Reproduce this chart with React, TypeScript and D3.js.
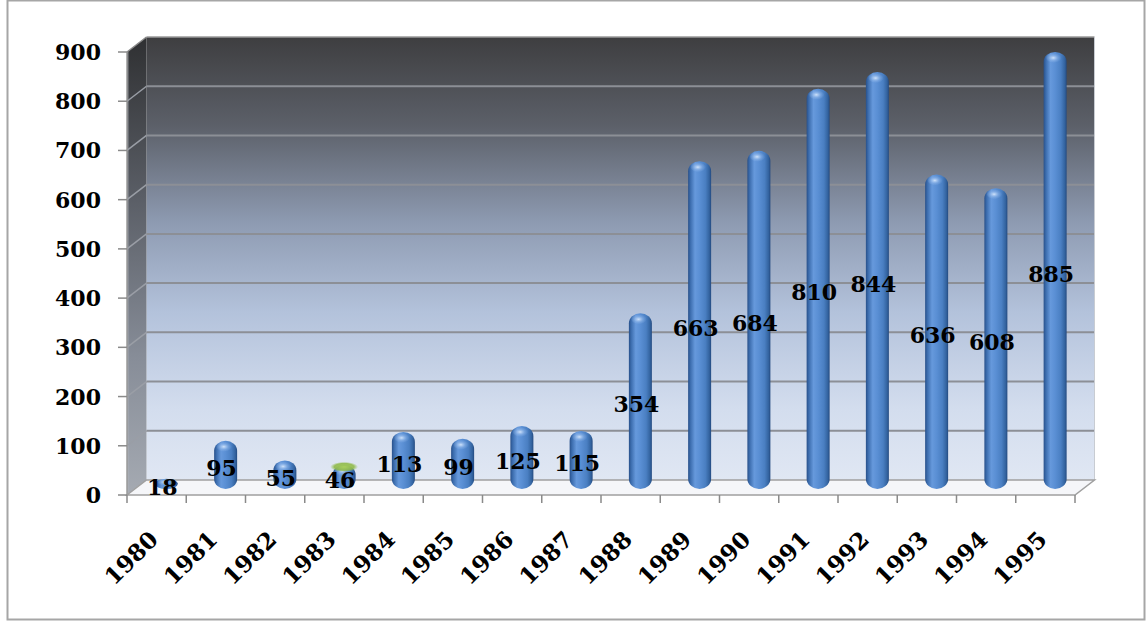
import React from "react";
import * as d3 from "d3";

// Yearly counts, 1980–1995
const years = ["1980", "1981", "1982", "1983", "1984", "1985", "1986", "1987", "1988", "1989", "1990", "1991", "1992", "1993", "1994", "1995"];
const counts = [18, 95, 55, 46, 113, 99, 125, 115, 354, 663, 684, 810, 844, 636, 608, 885];
const yTicks = [0, 100, 200, 300, 400, 500, 600, 700, 800, 900];
// The one bar whose cap is drawn in green
const greenCapYear = "1983";

const W = 1147;
const H = 621;
const FONT = "'DejaVu Serif', serif";

export default function App() {
  // front plane of the 3D box
  const left = 127;
  const right = 1075;
  const top = 52;
  const bottom = 495;
  // depth offset of the back wall
  const dx = 19.5;
  const dy = -15;

  const x = d3.scaleBand<string>().domain(years).range([left, right]).padding(0);
  const y = d3.scaleLinear().domain([0, 900]).range([bottom, top]);

  const barW = 23;
  const backL = left + dx;
  const backR = right + dx;
  const backT = top + dy;
  const backB = bottom + dy;

  const tickXs = d3.range(years.length + 1).map((i) => left + i * x.bandwidth());

  return (
    <svg width={W} height={H} style={{ position: "absolute", left: 0, top: 0, background: "#fff" }}>
      <defs>
        <linearGradient id="backWall" x1="0" y1="0" x2="0" y2="1">
          <stop offset="0%" stopColor="#3e3e40" />
          <stop offset="20%" stopColor="#5c6069" />
          <stop offset="42%" stopColor="#8e9bb2" />
          <stop offset="62%" stopColor="#b3c2db" />
          <stop offset="84%" stopColor="#d3ddee" />
          <stop offset="100%" stopColor="#e0e7f3" />
        </linearGradient>
        <linearGradient id="sideWall" x1="0" y1="0" x2="0" y2="1">
          <stop offset="0%" stopColor="#2f3032" />
          <stop offset="35%" stopColor="#5a5e66" />
          <stop offset="70%" stopColor="#878d98" />
          <stop offset="100%" stopColor="#a5aab2" />
        </linearGradient>
        <linearGradient id="cyl" x1="0" y1="0" x2="1" y2="0">
          <stop offset="0%" stopColor="#28508a" />
          <stop offset="10%" stopColor="#3c6dae" />
          <stop offset="30%" stopColor="#6699dc" />
          <stop offset="50%" stopColor="#5a8fd4" />
          <stop offset="75%" stopColor="#4a7fc2" />
          <stop offset="92%" stopColor="#33639f" />
          <stop offset="100%" stopColor="#244a80" />
        </linearGradient>
        <radialGradient id="capGlow" cx="0.45" cy="0.5" r="0.5">
          <stop offset="0%" stopColor="#d6e7fc" stopOpacity="0.95" />
          <stop offset="60%" stopColor="#9cc0ef" stopOpacity="0.4" />
          <stop offset="100%" stopColor="#9cc0ef" stopOpacity="0" />
        </radialGradient>
        <radialGradient id="greenCap" cx="0.5" cy="0.5" r="0.5">
          <stop offset="0%" stopColor="#a9cf5d" />
          <stop offset="70%" stopColor="#8fb94a" stopOpacity="0.9" />
          <stop offset="100%" stopColor="#9bc35a" stopOpacity="0" />
        </radialGradient>
      </defs>

      {/* outer frame */}
      <rect x={7.5} y={0.5} width={1137} height={619} fill="#fff" stroke="#a6a6a6" strokeWidth={2} />

      {/* back wall */}
      <rect x={backL} y={backT} width={backR - backL} height={backB - backT} fill="url(#backWall)" />
      {/* side wall */}
      <polygon
        points={`${left},${top} ${backL},${backT} ${backL},${backB} ${left},${bottom}`}
        fill="url(#sideWall)"
      />
      <line x1={left + 1} y1={top} x2={left + 1} y2={bottom} stroke="#b5b9c0" strokeWidth={1} opacity={0.6} />

      {/* gridlines on the walls */}
      {yTicks.slice(1, -1).map((t) => (
        <g key={`g${t}`}>
          <line x1={left} y1={y(t)} x2={backL} y2={y(t) + dy} stroke="#9a9ea6" strokeWidth={1.5} />
          <line x1={backL} y1={y(t) + dy} x2={backR} y2={y(t) + dy} stroke="#8c8f96" strokeWidth={2} />
        </g>
      ))}
      <line x1={left} y1={top} x2={backL} y2={backT} stroke="#8a8a8a" strokeWidth={1.5} />
      <line x1={backL} y1={backT} x2={backR} y2={backT} stroke="#9a9a9a" strokeWidth={1.5} />
      <line x1={backR} y1={backT} x2={backR} y2={backB} stroke="#c8ccd2" strokeWidth={1} />

      {/* floor */}
      <polygon
        points={`${left},${bottom} ${backL},${backB} ${backR},${backB} ${right},${bottom}`}
        fill="#f5f6f9"
        stroke="#a0a0a0"
        strokeWidth={1.5}
      />

      {/* value axis ticks and labels */}
      <line x1={left} y1={top} x2={left} y2={bottom} stroke="#9a9a9a" strokeWidth={1.5} />
      {yTicks.map((t) => (
        <g key={`y${t}`}>
          <line x1={left - 9} y1={y(t)} x2={left} y2={y(t)} stroke="#8a8a8a" strokeWidth={1.5} />
          <text
            x={101}
            y={y(t)}
            textAnchor="end"
            dominantBaseline="central"
            fontFamily={FONT}
            fontWeight="bold"
            fontSize={22}
            fill="#000"
          >
            {t}
          </text>
        </g>
      ))}

      {/* category axis ticks */}
      {tickXs.map((tx, i) => (
        <line key={`t${i}`} x1={tx} y1={bottom} x2={tx} y2={bottom + 8} stroke="#8a8a8a" strokeWidth={1.5} />
      ))}

      {/* cylinders */}
      {years.map((yr, i) => {
        const v = counts[i];
        const cx = (x(yr) as number) + x.bandwidth() / 2 + dx / 2;
        const yTop = y(v) + dy / 2;
        const yBot = y(0) + dy / 2 + 1.5;
        const h = yBot - yTop;
        const ry = Math.min(10, h / 2);
        return (
          <g key={`b${yr}`}>
            <rect x={cx - barW / 2} y={yTop} width={barW} height={h} rx={barW / 2} ry={ry} fill="url(#cyl)" />
            <ellipse cx={cx - 1} cy={yTop + Math.min(6, h / 3)} rx={8} ry={Math.min(5, h / 3)} fill="url(#capGlow)" />
            {yr === greenCapYear && (
              <ellipse cx={cx} cy={yTop + 2} rx={14} ry={5} fill="url(#greenCap)" />
            )}
          </g>
        );
      })}

      {/* value labels */}
      {years.map((yr, i) => {
        const v = counts[i];
        const cx = (x(yr) as number) + x.bandwidth() / 2 + dx / 2 - 4;
        return (
          <text
            key={`l${yr}`}
            x={cx}
            y={y(v / 2) + dy / 2 + 4}
            textAnchor="middle"
            dominantBaseline="central"
            fontFamily={FONT}
            fontWeight="bold"
            fontSize={22}
            fill="#000"
          >
            {v}
          </text>
        );
      })}

      {/* category labels */}
      {years.map((yr) => {
        const cx = (x(yr) as number) + x.bandwidth() / 2 + 3;
        const cy = 541;
        return (
          <text
            key={`x${yr}`}
            x={cx}
            y={cy}
            transform={`rotate(-45 ${cx} ${cy})`}
            textAnchor="end"
            fontFamily={FONT}
            fontWeight="bold"
            fontSize={23}
            fill="#000"
          >
            {yr}
          </text>
        );
      })}
    </svg>
  );
}
